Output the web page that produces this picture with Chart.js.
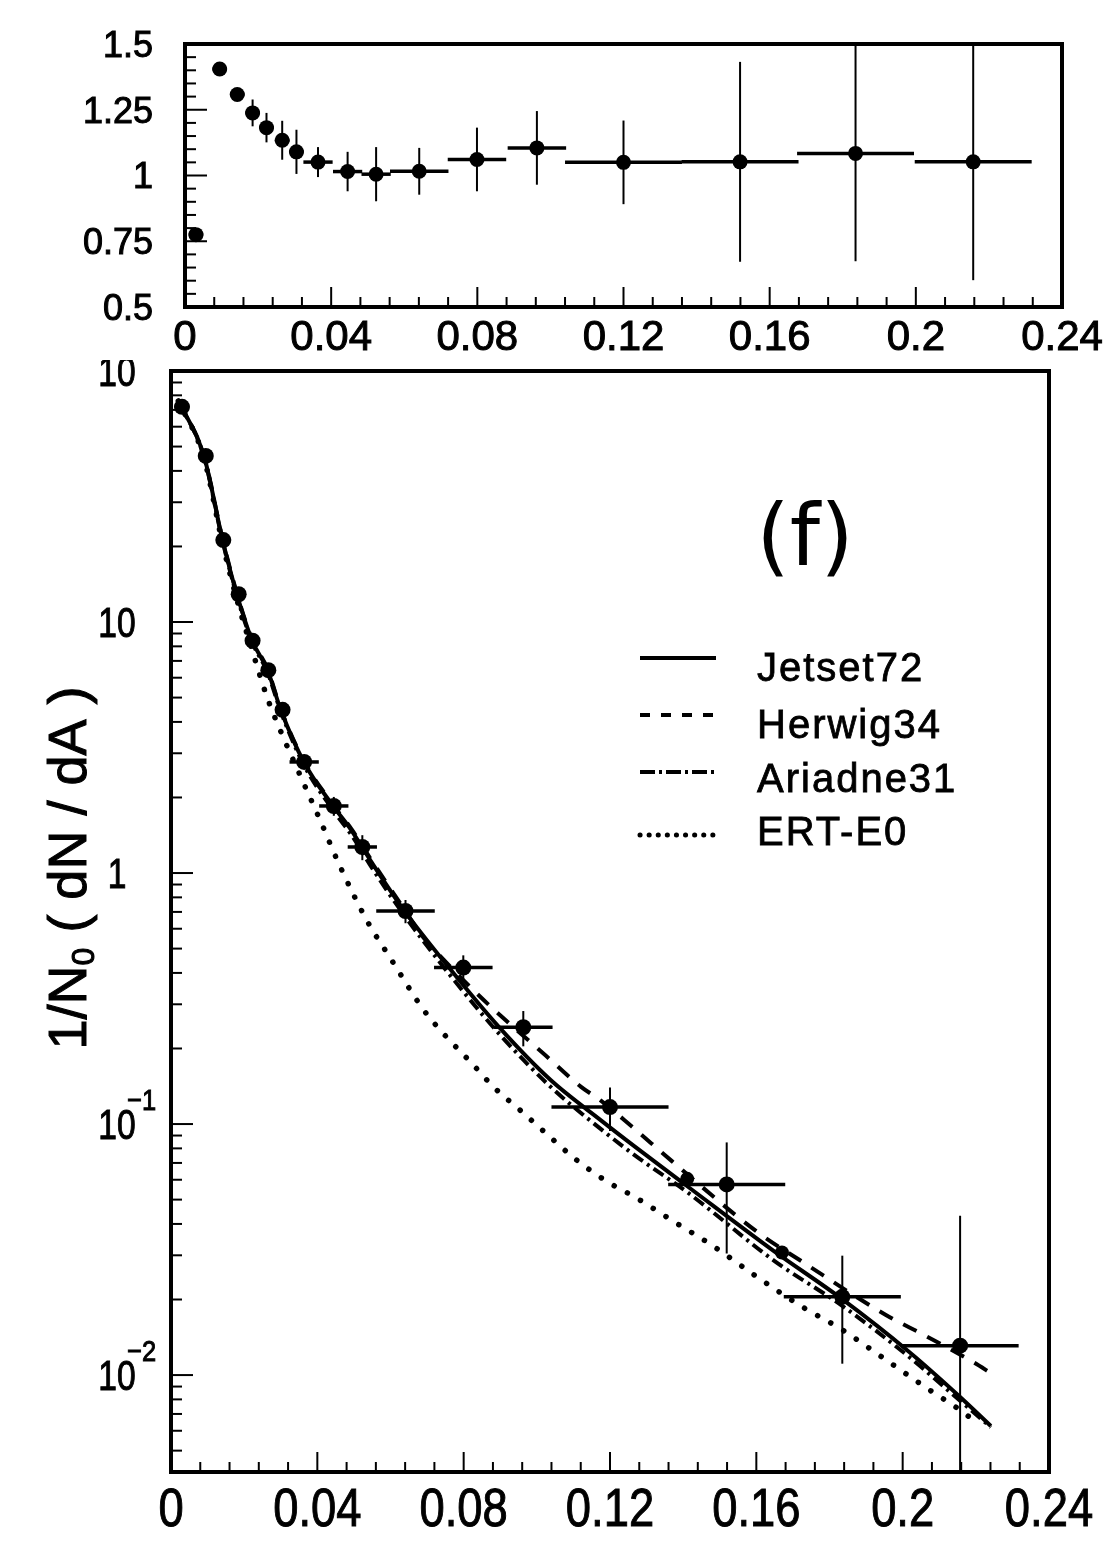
<!DOCTYPE html>
<html>
<head>
<meta charset="utf-8">
<title>1/N0 dN/dA</title>
<script src="https://cdn.jsdelivr.net/npm/chart.js@4.4.0/dist/chart.umd.min.js"></script>
<style>
  body { margin: 0; background: #fff; }
  #wrap { position: relative; width: 1112px; height: 1548px; overflow: hidden; background: #fff; }
  canvas { position: absolute; left: 0; }
</style>
</head>
<body>
<div id="wrap">
  <canvas id="ratio" width="1112" height="360" style="top:0"></canvas>
  <canvas id="dist" width="1112" height="1188" style="top:360px"></canvas>
</div>
<script>
// bins (shared by both panels)
const binX = [0.003, 0.0095, 0.0143, 0.0185, 0.0223, 0.0266, 0.0305, 0.0364, 0.0445, 0.0523,
              0.0641, 0.0799, 0.0963, 0.1200, 0.1519, 0.1835, 0.2157];
const binHalfW = [0.002, 0.002, 0.002, 0.002, 0.002, 0.002, 0.002, 0.004, 0.004, 0.004,
                  0.008, 0.008, 0.008, 0.016, 0.016, 0.016, 0.016];

// upper panel
const ratioY = [0.775, 1.405, 1.308, 1.238, 1.182, 1.134, 1.090, 1.051, 1.015, 1.005,
                1.016, 1.061, 1.105, 1.050, 1.052, 1.084, 1.052];
const ratioErr = [0.010, 0.010, 0.012, 0.051, 0.056, 0.074, 0.084, 0.057, 0.075, 0.103,
                  0.089, 0.121, 0.140, 0.159, 0.380, 0.410, 0.450];

// lower panel, data
const distY = [72, 45.9, 21.2, 12.9, 8.43, 6.43, 4.47, 2.77, 1.85, 1.27,
               0.706, 0.420, 0.243, 0.1168, 0.0575, 0.0205, 0.0131];
const distErr = [2.5, 1.6, 0.8, 0.5, 0.34, 0.27, 0.2, 0.13, 0.16, 0.145,
                 0.075, 0.05, 0.039, 0.023, 0.027, 0.0094, 0.030];
const extraX = [0.1411, 0.167];
const extraY = [0.0605, 0.0308];

// lower panel, models
const jetsetX = [0.002, 0.009, 0.0141, 0.018, 0.0222, 0.0264, 0.030, 0.0363, 0.0443, 0.0493, 0.0549, 0.0634,
                 0.0758, 0.0898, 0.1037, 0.1177, 0.1268, 0.1415, 0.1649, 0.1832, 0.2018, 0.2157, 0.2241];
const jetsetY = [76, 45.9, 21.2, 12.9, 8.43, 6.43, 4.47, 2.77, 1.85, 1.48, 1.10, 0.72,
                 0.423, 0.242, 0.150, 0.103, 0.0813, 0.056, 0.0311, 0.0202, 0.01236, 0.00818, 0.00627];
const herwigX = [0.002, 0.009, 0.0141, 0.018, 0.0222, 0.0264, 0.030, 0.0363, 0.0443, 0.0493, 0.0549, 0.0634,
                 0.069, 0.0738, 0.0828, 0.0878, 0.1025, 0.112, 0.1175, 0.1259, 0.137, 0.160,
                 0.1732, 0.1953, 0.2064, 0.2191, 0.2245];
const herwigY = [76, 46, 21.4, 13.0, 8.5, 6.5, 4.5, 2.8, 1.87, 1.5, 1.12, 0.73,
                 0.553, 0.463, 0.34, 0.29, 0.187, 0.141, 0.124, 0.098, 0.071, 0.0374,
                 0.0279, 0.0174, 0.0143, 0.0113, 0.0101];
const ariadneX = jetsetX;
const ariadneY = [76, 45.5, 21, 12.7, 8.3, 6.3, 4.4, 2.7, 1.78, 1.42, 1.05, 0.69,
                  0.40, 0.228, 0.141, 0.095, 0.075, 0.053, 0.0285, 0.0190, 0.0118, 0.0079, 0.0062];
const ertX = [0.002, 0.009, 0.0141, 0.018, 0.0222, 0.0264, 0.0302, 0.0353, 0.0408, 0.0459, 0.0536,
              0.0601, 0.0692, 0.0748, 0.0821, 0.0882, 0.0957, 0.103, 0.1105, 0.1188, 0.1271,
              0.1373, 0.1484, 0.1595, 0.1723, 0.1833, 0.1944, 0.2067, 0.2158, 0.2206];
const ertY = [76, 45, 20.5, 12.3, 7.7, 4.95, 3.61, 2.45, 1.62, 1.088, 0.645,
              0.455, 0.283, 0.2265, 0.1754, 0.1404, 0.1127, 0.0905, 0.0726, 0.0595, 0.0509,
              0.041, 0.0325, 0.025, 0.0188, 0.0152, 0.01178, 0.00885, 0.00724, 0.0064];

// axes
const xMajor = [0, 0.04, 0.08, 0.12, 0.16, 0.2, 0.24];
const xMajorLabels = ['0', '0.04', '0.08', '0.12', '0.16', '0.2', '0.24'];
const xMinorStep = 0.008;
const ratioMajor = [0.5, 0.75, 1, 1.25, 1.5];
const ratioLabels = ['0.5', '0.75', '1', '1.25', '1.5'];
const ratioMinorStep = 0.05;
const logMajor = [0.01, 0.1, 1, 10, 100];
const logBase = ['10', '10', '1', '10', '10'];
const logExp = ['\u22122', '\u22121', '', '', '2'];

const legendNames = ['Jetset72', 'Herwig34', 'Ariadne31', 'ERT-E0'];

const FONT = '"Liberation Sans", Arial, Helvetica, sans-serif';
Chart.defaults.font.family = FONT;
Chart.defaults.color = '#000';

function text(ctx, s, x, y, size, align, sx, family, weight) {
    ctx.save();
    ctx.translate(x, y);
    ctx.scale(sx || 1, 1);
    ctx.font = size + 'px ' + (family || FONT);
    ctx.textAlign = align;
    ctx.textBaseline = 'alphabetic';
    ctx.fillText(s, 0, 0);
    // scanned print looks a little heavier
    const lw = weight === undefined ? 1 : weight;
    if (lw > 0) {
        ctx.lineWidth = lw;
        ctx.strokeText(s, 0, 0);
    }
    ctx.restore();
}

function drawBars(chart, b) {
    const ctx = chart.ctx, a = chart.chartArea;
    const xs = chart.scales.x, ys = chart.scales.y;
    ctx.save();
    ctx.beginPath();
    ctx.rect(a.left, a.top, a.right - a.left, a.bottom - a.top);
    ctx.clip();
    ctx.strokeStyle = '#000';
    b.x.forEach((xv, i) => {
        const px = xs.getPixelForValue(xv);
        const py = ys.getPixelForValue(b.y[i]);
        const lo = b.y[i] - b.yerr[i];
        const pLo = (lo > 0 || !b.log) ? ys.getPixelForValue(lo) : a.bottom;
        const pHi = ys.getPixelForValue(b.y[i] + b.yerr[i]);
        ctx.lineWidth = 2;
        ctx.beginPath();
        ctx.moveTo(px, pLo);
        ctx.lineTo(px, pHi);
        ctx.stroke();
        ctx.lineWidth = 3.5;
        ctx.beginPath();
        ctx.moveTo(xs.getPixelForValue(xv - b.xerr[i]), py);
        ctx.lineTo(xs.getPixelForValue(xv + b.xerr[i]), py);
        ctx.stroke();
    });
    ctx.restore();
}

function tick(ctx, x1, y1, x2, y2) {
    ctx.beginPath();
    ctx.moveTo(x1, y1);
    ctx.lineTo(x2, y2);
    ctx.stroke();
}

const decor = {
    id: 'decor',
    afterDatasetsDraw(chart, args, o) {
        drawBars(chart, o.bars);
    },
    afterDraw(chart, args, o) {
        const ctx = chart.ctx, a = chart.chartArea;
        const xs = chart.scales.x, ys = chart.scales.y;
        ctx.save();
        ctx.strokeStyle = '#000';
        ctx.fillStyle = '#000';
        ctx.lineWidth = 4;
        ctx.strokeRect(a.left, a.top, a.right - a.left, a.bottom - a.top);

        // x ticks and labels
        ctx.lineWidth = 2;
        for (let i = 0; i <= 30; i++) {
            const px = xs.getPixelForValue(i * xMinorStep);
            tick(ctx, px, a.bottom, px, a.bottom - (i % 5 === 0 ? 20 : 10));
        }
        const xf = o.xFont;
        xMajor.forEach((v, i) => {
            text(ctx, xMajorLabels[i], xs.getPixelForValue(v), a.bottom + xf.gap + xf.size * 0.716,
                 xf.size, 'center', xf.sx);
        });

        if (o.kind === 'ratio') {
            ctx.lineWidth = 2;
            for (let i = 0; i <= 20; i++) {
                const py = ys.getPixelForValue(0.5 + i * ratioMinorStep);
                tick(ctx, a.left, py, a.left + (i % 5 === 0 ? 22 : 11), py);
            }
            ratioMajor.forEach((v, i) => {
                text(ctx, ratioLabels[i], a.left - 32, ys.getPixelForValue(v) + 36 * 0.716 / 2, 36, 'right');
            });
        } else {
            ctx.lineWidth = 2;
            for (let e = -3; e <= 2; e++) {
                for (let m = 1; m <= 9; m++) {
                    const v = m * Math.pow(10, e);
                    if (v < ys.min || v > ys.max * 1.0001) continue;
                    const py = ys.getPixelForValue(v);
                    tick(ctx, a.left, py, a.left + (m === 1 ? 22 : 11), py);
                }
            }
            logMajor.forEach((v, i) => {
                const py = ys.getPixelForValue(v);
                text(ctx, logBase[i], a.left - 54, py + 42 * 0.716 / 2, 42, 'center', 0.8);
                if (logExp[i]) text(ctx, logExp[i], a.left - 44, py - 14, 30, 'left', 0.85);
            });

            // y title
            ctx.save();
            ctx.translate(86, 508);
            ctx.rotate(-Math.PI / 2);
            const parts = [['1/N', 54, 0], ['0', 32, 8], [' ( dN / dA )', 54, 0]];
            let w = 0;
            parts.forEach(p => { ctx.font = p[1] + 'px ' + FONT; w += ctx.measureText(p[0]).width; });
            let x = -w / 2;
            ctx.textBaseline = 'alphabetic';
            ctx.lineWidth = 1;
            parts.forEach(p => {
                ctx.font = p[1] + 'px ' + FONT;
                ctx.fillText(p[0], x, p[2]);
                ctx.strokeText(p[0], x, p[2]);
                x += ctx.measureText(p[0]).width;
            });
            ctx.restore();

            // panel tag
            text(ctx, '(f)', 805, 205, 86, 'center', 1, '"DejaVu Sans", sans-serif', 0);

            // legend
            const sets = chart.data.datasets.slice(2);
            const lineY = [298, 355, 412, 475];
            const baseY = [321, 378, 432, 485];
            const legDash = [[], [10, 11], [15, 4, 3, 4], [0.1, 9]];
            sets.forEach((ds, i) => {
                ctx.save();
                ctx.lineWidth = i === 3 ? 5 : 4;
                ctx.lineCap = i === 3 ? 'round' : 'butt';
                ctx.setLineDash(legDash[i]);
                tick(ctx, 640, lineY[i], 716, lineY[i]);
                ctx.restore();
                ctx.save();
                ctx.letterSpacing = '2px';
                text(ctx, legendNames[i], 757, baseY[i], 40, 'left', 1, FONT, 0.8);
                ctx.restore();
            });
        }
        ctx.restore();
    }
};

const pts = (xs, ys) => xs.map((x, i) => ({ x: x, y: ys[i] }));
const curve = (label, xs, ys, dash, width, cap) => ({
    label: label,
    data: pts(xs, ys),
    showLine: true,
    pointRadius: 0,
    borderColor: '#000',
    borderWidth: width,
    borderDash: dash,
    borderCapStyle: cap || 'butt',
    cubicInterpolationMode: 'monotone',
    fill: false
});
const axisOff = { ticks: { display: false }, grid: { display: false }, border: { display: false } };

new Chart(document.getElementById('ratio'), {
    type: 'scatter',
    data: {
        datasets: [{
            data: pts(binX, ratioY),
            pointRadius: 7.5,
            pointBackgroundColor: '#000',
            pointBorderWidth: 0
        }]
    },
    options: {
        responsive: false,
        animation: false,
        devicePixelRatio: 1,
        events: [],
        layout: { padding: { top: 44, right: 50, left: 0, bottom: 0 } },
        plugins: {
            legend: { display: false },
            tooltip: { enabled: false },
            decor: {
                kind: 'ratio',
                xFont: { size: 42, sx: 1, gap: 13 },
                bars: { x: binX, y: ratioY, yerr: ratioErr, xerr: binHalfW, log: false }
            }
        },
        scales: {
            x: { type: 'linear', min: 0, max: 0.24, ...axisOff, afterFit: s => { s.height = 53; } },
            y: { type: 'linear', min: 0.5, max: 1.5, ...axisOff, afterFit: s => { s.width = 185; } }
        }
    },
    plugins: [decor]
});

new Chart(document.getElementById('dist'), {
    type: 'scatter',
    data: {
        datasets: [
            { label: 'data', data: pts(binX, distY), pointRadius: 8, pointBackgroundColor: '#000', pointBorderWidth: 0 },
            { label: 'markers', data: pts(extraX, extraY), pointRadius: 7, pointBackgroundColor: '#000', pointBorderWidth: 0 },
            curve('Jetset72', jetsetX, jetsetY, [], 4),
            curve('Herwig34', herwigX, herwigY, [15, 12], 4),
            curve('Ariadne31', ariadneX, ariadneY, [12, 5, 3, 5], 4),
            curve('ERT-E0', ertX, ertY, [0.1, 15], 5.5, 'round')
        ]
    },
    options: {
        responsive: false,
        animation: false,
        devicePixelRatio: 1,
        events: [],
        layout: { padding: { top: 11, right: 63, left: 0, bottom: 0 } },
        plugins: {
            legend: { display: false },
            tooltip: { enabled: false },
            decor: {
                kind: 'dist',
                xFont: { size: 54, sx: 0.84, gap: 15 },
                bars: { x: binX, y: distY, yerr: distErr, xerr: binHalfW, log: true }
            }
        },
        scales: {
            x: { type: 'linear', min: 0, max: 0.24, ...axisOff, afterFit: s => { s.height = 76; } },
            y: { type: 'logarithmic', min: 0.00411, max: 100, ...axisOff, afterFit: s => { s.width = 171; } }
        }
    },
    plugins: [decor]
});
</script>
</body>
</html>
